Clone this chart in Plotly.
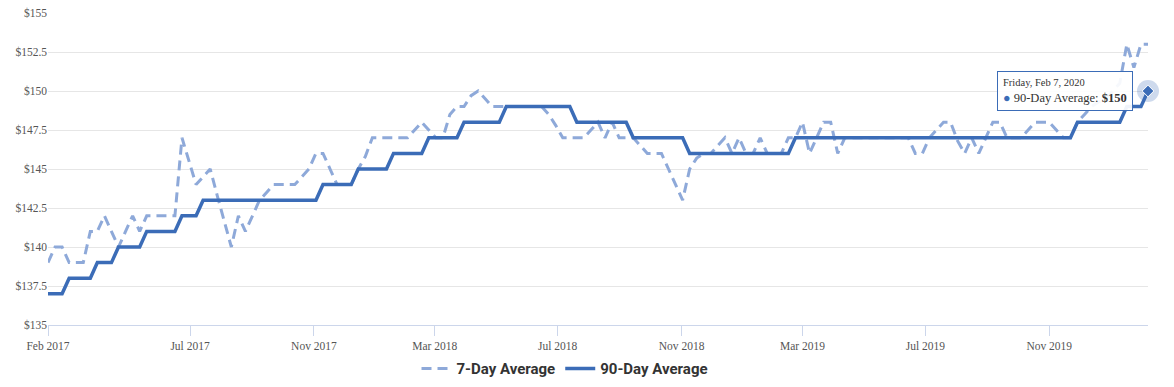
import pandas as pd
import plotly.graph_objects as go

# Weekly observation dates (Fridays)
dates = pd.date_range("2017-02-10", periods=157, freq="7D")

seven_day = [
    139, 140, 140, 139, 139, 139, 141, 141, 142, 141,
    140, 141, 142, 141, 142, 142, 142, 142, 142, 147,
    145.5, 144, 144.5, 145, 143.3, 141.6, 140, 142, 141, 142,
    143, 143.5, 144, 144, 144, 144, 144.5, 145, 146, 146,
    145, 144, 144, 144, 145, 145.8, 147, 147, 147, 147,
    147, 147, 147.5, 148, 147.5, 147, 147, 148.5, 149, 149,
    149.7, 150, 149.5, 149, 149, 149, 149, 149, 149, 149,
    149, 148.5, 147.8, 147, 147, 147, 147, 147.5, 148, 147,
    148, 147, 147, 147, 146.5, 146, 146, 146, 145, 144,
    143, 145, 145.7, 146, 146, 146.5, 147, 146, 147, 146,
    146, 147, 146, 146, 146, 147, 147, 148, 146, 147,
    148, 148, 146, 147, 147, 147, 147, 147, 147, 147,
    147, 147, 147, 146, 146, 147, 147.5, 148, 148, 146.8,
    146, 147, 146, 147, 148, 148, 147, 147, 147, 147.5,
    148, 148, 148, 147.5, 147, 147, 148, 148.5, 149, 149.3,
    149.5, 150, 150.5, 153, 151.5, 153, 153,
]

ninety_day = [
    137, 137, 137, 138, 138, 138, 138, 139, 139, 139,
    140, 140, 140, 140, 141, 141, 141, 141, 141, 142,
    142, 142, 143, 143, 143, 143, 143, 143, 143, 143,
    143, 143, 143, 143, 143, 143, 143, 143, 143, 144,
    144, 144, 144, 144, 145, 145, 145, 145, 145, 146,
    146, 146, 146, 146, 147, 147, 147, 147, 147, 148,
    148, 148, 148, 148, 148, 149, 149, 149, 149, 149,
    149, 149, 149, 149, 149, 148, 148, 148, 148, 148,
    148, 148, 148, 147, 147, 147, 147, 147, 147, 147,
    147, 146, 146, 146, 146, 146, 146, 146, 146, 146,
    146, 146, 146, 146, 146, 146, 147, 147, 147, 147,
    147, 147, 147, 147, 147, 147, 147, 147, 147, 147,
    147, 147, 147, 147, 147, 147, 147, 147, 147, 147,
    147, 147, 147, 147, 147, 147, 147, 147, 147, 147,
    147, 147, 147, 147, 147, 147, 148, 148, 148, 148,
    148, 148, 148, 149, 149, 149, 150,
]

x_tick_vals = ["2017-02-10", "2017-07-01", "2017-11-01", "2018-03-01", "2018-07-01",
               "2018-11-01", "2019-03-01", "2019-07-01", "2019-11-01"]
x_tick_text = ["Feb 2017", "Jul 2017", "Nov 2017", "Mar 2018", "Jul 2018",
               "Nov 2018", "Mar 2019", "Jul 2019", "Nov 2019"]
y_tick_vals = [135, 137.5, 140, 142.5, 145, 147.5, 150, 152.5, 155]
y_tick_text = ["$135", "$137.5", "$140", "$142.5", "$145", "$147.5", "$150", "$152.5", "$155"]

LIGHT = "#8EA9D9"
DARK = "#3B6CB7"
SERIF = "Liberation Serif"

fig = go.Figure()
fig.add_trace(go.Scatter(
    x=dates, y=seven_day, mode="lines", name="7-Day Average",
    line=dict(color=LIGHT, width=3, dash="10px,6px"),
    hoverinfo="skip",
))
fig.add_trace(go.Scatter(
    x=dates, y=ninety_day, mode="lines", name="90-Day Average",
    line=dict(color=DARK, width=3.5),
    hoverinfo="skip",
))
# hover halo + diamond marker at the latest 90-day point
fig.add_trace(go.Scatter(
    x=[dates[-1]], y=[ninety_day[-1]], mode="markers", showlegend=False,
    marker=dict(size=22, color="rgba(59,108,183,0.25)"),
    cliponaxis=False, hoverinfo="skip",
))
fig.add_trace(go.Scatter(
    x=[dates[-1]], y=[ninety_day[-1]], mode="markers", showlegend=False,
    marker=dict(size=9, symbol="diamond", color=DARK, line=dict(color="#ffffff", width=1)),
    cliponaxis=False, hoverinfo="skip",
))

fig.add_annotation(
    x=dates[-1], y=ninety_day[-1], xref="x", yref="y",
    xanchor="right", yanchor="middle", xshift=-15, yshift=0,
    showarrow=False, align="left",
    text=("<span style='font-size:10.5px'>Friday, Feb 7, 2020</span><br>"
          f"<span style='color:{DARK}'>●</span> 90-Day Average: <b>${ninety_day[-1]}</b>"),
    font=dict(family=SERIF, size=12.5, color="#333333"),
    bgcolor="rgba(255,255,255,0.92)", bordercolor=DARK, borderwidth=1, borderpad=5,
)

fig.update_layout(
    width=1174, height=387,
    margin=dict(l=48, r=26, t=13, b=62, autoexpand=False),
    paper_bgcolor="white", plot_bgcolor="white",
    showlegend=True,
    legend=dict(
        orientation="h", x=0.47, xanchor="center", y=-0.14, yanchor="middle",
        font=dict(family="Roboto", size=15, color="#333333", weight="bold"),
        itemwidth=30,
    ),
    hovermode=False,
)
fig.update_xaxes(
    range=[dates[0], dates[-1]],
    tickvals=x_tick_vals, ticktext=x_tick_text,
    tickfont=dict(family=SERIF, size=11.5, color="#555555"),
    showgrid=False, zeroline=False,
    showline=True, linecolor="#ccd6eb", linewidth=1,
    ticks="outside", ticklen=10, tickcolor="#ccd6eb", tickwidth=1,
)
fig.update_yaxes(
    range=[135, 155],
    tickvals=y_tick_vals, ticktext=y_tick_text,
    tickfont=dict(family=SERIF, size=11.5, color="#555555"),
    showgrid=True, gridcolor="#e6e6e6", gridwidth=1,
    zeroline=False, showline=False, ticks="",
)

fig.write_html("out.html", config={"displayModeBar": False},
               post_script="document.body.style.margin='0';")
